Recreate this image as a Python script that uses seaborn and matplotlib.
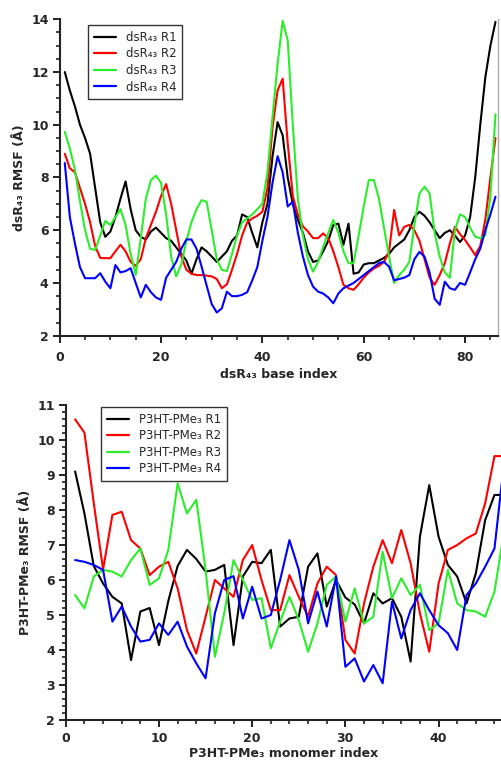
import numpy as np
import pandas as pd
import matplotlib
matplotlib.use("Agg")
import matplotlib.pyplot as plt
from matplotlib.ticker import MultipleLocator
import seaborn as sns

# ---------------- data ----------------
top_runs = ["dsR₄₃ R1", "dsR₄₃ R2", "dsR₄₃ R3", "dsR₄₃ R4"]
top_r1 = [12.0, 11.3, 10.7, 10.0, 9.5, 8.9, 7.6, 6.3, 5.75, 5.95,
          6.5, 7.2, 7.85, 6.8, 6.0, 5.75, 5.65, 5.95, 6.1, 5.9,
          5.7, 5.6, 5.35, 5.1, 4.85, 4.35, 4.9, 5.35, 5.2, 5.0,
          4.8, 5.0, 5.2, 5.6, 5.8, 6.6, 6.5, 5.9, 5.35, 6.3,
          7.0, 8.8, 10.1, 9.6, 8.0, 7.0, 6.4, 5.9, 5.2, 4.8,
          4.85, 5.2, 5.6, 6.2, 6.25, 5.45, 6.25, 4.35, 4.4, 4.7,
          4.75, 4.75, 4.85, 4.95, 5.1, 5.35, 5.5, 5.65, 6.0, 6.5,
          6.7, 6.55, 6.3, 6.0, 5.7, 5.9, 6.0, 5.8, 5.55, 5.8,
          6.5, 8.0, 10.0, 11.8, 13.0, 13.9]
top_r2 = [8.9, 8.35, 8.2, 7.6, 7.0, 6.3, 5.4, 4.95, 4.94, 4.94,
          5.2, 5.45, 5.2, 4.8, 4.65, 4.9, 5.7, 6.2, 6.7, 7.3,
          7.75, 7.0, 6.0, 5.0, 4.5, 4.35, 4.3, 4.3, 4.28, 4.25,
          4.15, 3.8, 3.95, 4.5, 5.1, 5.8, 6.3, 6.45, 6.55, 6.7,
          7.6, 9.9, 11.3, 11.75, 9.3, 7.3, 6.6, 6.15, 5.95, 5.7,
          5.7, 5.88, 5.7, 5.2, 4.6, 3.93, 3.8, 3.74, 3.95, 4.2,
          4.4, 4.55, 4.65, 4.8, 5.2, 6.77, 5.8, 6.13, 6.2, 6.0,
          5.6, 4.9, 4.2, 3.93, 4.3, 4.75, 5.5, 6.13, 5.85, 5.63,
          5.35, 5.06, 5.4, 6.4, 8.0, 9.5]
top_r3 = [9.73, 9.1, 8.3, 7.1, 6.0, 5.3, 5.25, 5.8, 6.35, 6.2,
          6.5, 6.8, 6.2, 5.1, 4.3, 5.7, 7.2, 7.9, 8.07, 7.8,
          6.6, 5.0, 4.25, 4.7, 5.6, 6.3, 6.8, 7.14, 7.08, 6.0,
          4.9, 4.5, 4.45, 5.1, 5.8, 6.3, 6.45, 6.6, 6.8, 7.0,
          8.2, 10.3, 12.3, 13.94, 13.2, 10.0, 7.2, 5.8, 4.9, 4.43,
          4.8, 5.37, 5.9, 6.39, 5.9, 5.2, 4.75, 4.75, 5.8, 6.9,
          7.9, 7.9, 7.2, 6.1, 5.0, 4.0, 4.3, 4.5, 4.8, 6.2,
          7.4, 7.65, 7.4, 5.9, 5.0, 4.4, 4.2, 6.0, 6.6, 6.5,
          6.1, 5.75, 5.7, 5.8, 7.3, 10.4]
top_r4 = [8.55, 6.5, 5.5, 4.6, 4.18, 4.18, 4.18, 4.37, 4.05, 3.8,
          4.68, 4.4, 4.45, 4.56, 4.0, 3.45, 3.93, 3.65, 3.45, 3.36,
          4.2, 4.5, 4.8, 5.3, 5.65, 5.65, 5.3, 4.62, 3.9, 3.2,
          2.88, 3.04, 3.67, 3.5, 3.5, 3.55, 3.65, 4.1, 4.6, 5.6,
          6.5, 7.8, 8.81, 8.2, 6.9, 7.08, 5.9, 5.0, 4.3, 3.86,
          3.67, 3.6, 3.45, 3.23, 3.6, 3.8, 3.9, 4.0, 4.15, 4.3,
          4.45, 4.6, 4.75, 4.8, 4.62, 4.1, 4.15, 4.2, 4.3, 4.9,
          5.18, 5.0, 4.4, 3.4, 3.17, 4.05, 3.8, 3.74, 4.0, 3.93,
          4.4, 4.9, 5.3, 6.0, 6.6, 7.27]

bot_runs = ["P3HT-PMe₃ R1", "P3HT-PMe₃ R2", "P3HT-PMe₃ R3", "P3HT-PMe₃ R4"]
bot_r1 = [9.1, 7.9, 6.4, 5.9, 5.52, 5.33, 3.71, 5.1, 5.2, 4.14,
          5.4, 6.4, 6.86, 6.6, 6.24, 6.29, 6.43, 4.14, 6.1, 6.52,
          6.48, 6.86, 4.67, 4.9, 4.95, 6.38, 6.76, 5.24, 6.0, 5.5,
          5.3, 4.76, 5.62, 5.33, 5.48, 4.95, 3.67, 7.24, 8.71, 7.24,
          6.43, 6.1, 5.33, 6.19, 7.71, 8.43, 8.43]
bot_r2 = [10.59, 10.21, 8.2, 6.3, 7.86, 7.95, 7.14, 6.9, 6.14, 6.38,
          6.52, 5.76, 4.57, 3.9, 4.95, 6.0, 5.76, 5.52, 6.57, 7.0,
          6.0, 5.14, 5.14, 6.14, 5.52, 4.95, 5.9, 6.38, 6.14, 4.29,
          3.9, 5.33, 6.38, 7.14, 6.48, 7.43, 6.48, 5.05, 3.95, 5.9,
          6.86, 7.0, 7.19, 7.33, 8.19, 9.54, 9.54]
bot_r3 = [5.57, 5.19, 6.1, 6.29, 6.24, 6.1, 6.57, 6.9, 5.86, 6.05,
          6.86, 8.76, 7.9, 8.29, 6.29, 3.81, 5.05, 6.57, 6.0, 5.43,
          5.48, 4.05, 4.81, 5.52, 4.86, 3.95, 4.76, 5.86, 6.1, 4.81,
          5.76, 4.76, 4.95, 6.81, 5.48, 6.05, 5.57, 5.86, 4.57, 4.76,
          6.29, 5.33, 5.14, 5.1, 4.95, 5.67, 7.33]
bot_r4 = [6.57, 6.52, 6.43, 6.29, 4.81, 5.24, 4.67, 4.24, 4.29, 4.76,
          4.43, 4.81, 4.1, 3.62, 3.19, 5.05, 6.0, 6.11, 4.9, 5.81,
          4.9, 5.0, 6.0, 7.14, 6.29, 4.76, 5.67, 4.67, 6.1, 3.52,
          3.76, 3.1, 3.57, 3.05, 5.38, 4.33, 5.14, 5.62, 5.14, 4.71,
          4.48, 4.0, 5.57, 5.9, 6.38, 6.9, 9.28]

top_xticks = [0, 20, 40, 60, 80]
top_yticks = [2, 4, 6, 8, 10, 12, 14]
bot_xticks = [0, 10, 20, 30, 40]
bot_yticks = [2, 3, 4, 5, 6, 7, 8, 9, 10, 11]

colors = ["#000000", "#ff0000", "#2aee2a", "#0000ff"]


def long_frame(runs, series):
    rows = []
    for name, vals in zip(runs, series):
        for i, v in enumerate(vals):
            rows.append({"index": i + 1, "rmsf": v, "run": name})
    return pd.DataFrame(rows)


df_top = long_frame(top_runs, [top_r1, top_r2, top_r3, top_r4])
df_bot = long_frame(bot_runs, [bot_r1, bot_r2, bot_r3, bot_r4])

sns.set_style("ticks")
plt.rcParams["font.family"] = ["DejaVu Sans"]

fig = plt.figure(figsize=(5.01, 7.62), dpi=100)
W, H = 501.0, 762.0
ax1 = fig.add_axes([59.7 / W, 1 - 335.7 / H, (498 - 59.7) / W, (335.7 - 19.3) / H])
ax2 = fig.add_axes([65.8 / W, 1 - 720 / H, (501 - 65.8) / W, (720 - 405) / H])

for ax, df, runs in [(ax1, df_top, top_runs), (ax2, df_bot, bot_runs)]:
    sns.lineplot(data=df, x="index", y="rmsf", hue="run", hue_order=runs,
                 palette=colors, estimator=None, sort=False, linewidth=1.5,
                 ax=ax)

# axes limits and ticks
ax1.set_xlim(0, 86.5)
ax1.set_ylim(2, 14)
ax2.set_xlim(0, 46.7)
ax2.set_ylim(2, 11)

ax1.set_xticks(top_xticks, labels=[str(t) for t in top_xticks], fontweight="bold")
ax1.set_yticks(top_yticks, labels=[str(t) for t in top_yticks], fontweight="bold")
ax2.set_xticks(bot_xticks, labels=[str(t) for t in bot_xticks], fontweight="bold")
ax2.set_yticks(bot_yticks, labels=[str(t) for t in bot_yticks], fontweight="bold")
ax1.xaxis.set_minor_locator(MultipleLocator(5))
ax1.yaxis.set_minor_locator(MultipleLocator(0.5))
ax2.xaxis.set_minor_locator(MultipleLocator(2))
ax2.yaxis.set_minor_locator(MultipleLocator(0.2))

for ax in (ax1, ax2):
    ax.tick_params(which="major", direction="out", length=5, width=1.4,
                   labelsize=9, color="#222222")
    ax.tick_params(axis="y", which="major", pad=3)
    ax.tick_params(which="minor", direction="out", length=3, width=1.2,
                   color="#222222")
    for s in ("left", "bottom"):
        ax.spines[s].set_linewidth(1.5)
        ax.spines[s].set_color("#222222")
    ax.spines["top"].set_visible(False)
ax1.tick_params(axis="x", which="major", pad=6)
ax2.tick_params(axis="x", which="major", pad=4)

ax1.spines["right"].set_visible(True)
ax1.spines["right"].set_color("#aaaaaa")
ax1.spines["right"].set_linewidth(1.0)
ax2.spines["right"].set_visible(False)

ax1.set_xlabel("dsR₄₃ base index", fontsize=9, fontweight="bold", labelpad=3)
ax1.set_ylabel("dsR₄₃ RMSF (Å)", fontsize=9, fontweight="bold", labelpad=4)
ax2.set_xlabel("P3HT-PMe₃ monomer index", fontsize=9, fontweight="bold", labelpad=1)
ax2.set_ylabel("P3HT-PMe₃ RMSF (Å)", fontsize=9, fontweight="bold", labelpad=4)

for ax, anchor in [(ax1, (0.064, 0.982)), (ax2, (0.081, 0.994))]:
    handles, labels = ax.get_legend_handles_labels()
    leg = ax.legend(handles, labels, loc="upper left", bbox_to_anchor=anchor,
                    fontsize=8.5, frameon=True, fancybox=False, framealpha=1,
                    edgecolor="#333333", handlelength=1.9, handletextpad=0.8,
                    labelspacing=0.3, borderpad=0.5, borderaxespad=0)
    leg.get_frame().set_linewidth(1.0)
    for line in leg.get_lines():
        line.set_linewidth(1.6)

fig.savefig("out.png", dpi=100)
